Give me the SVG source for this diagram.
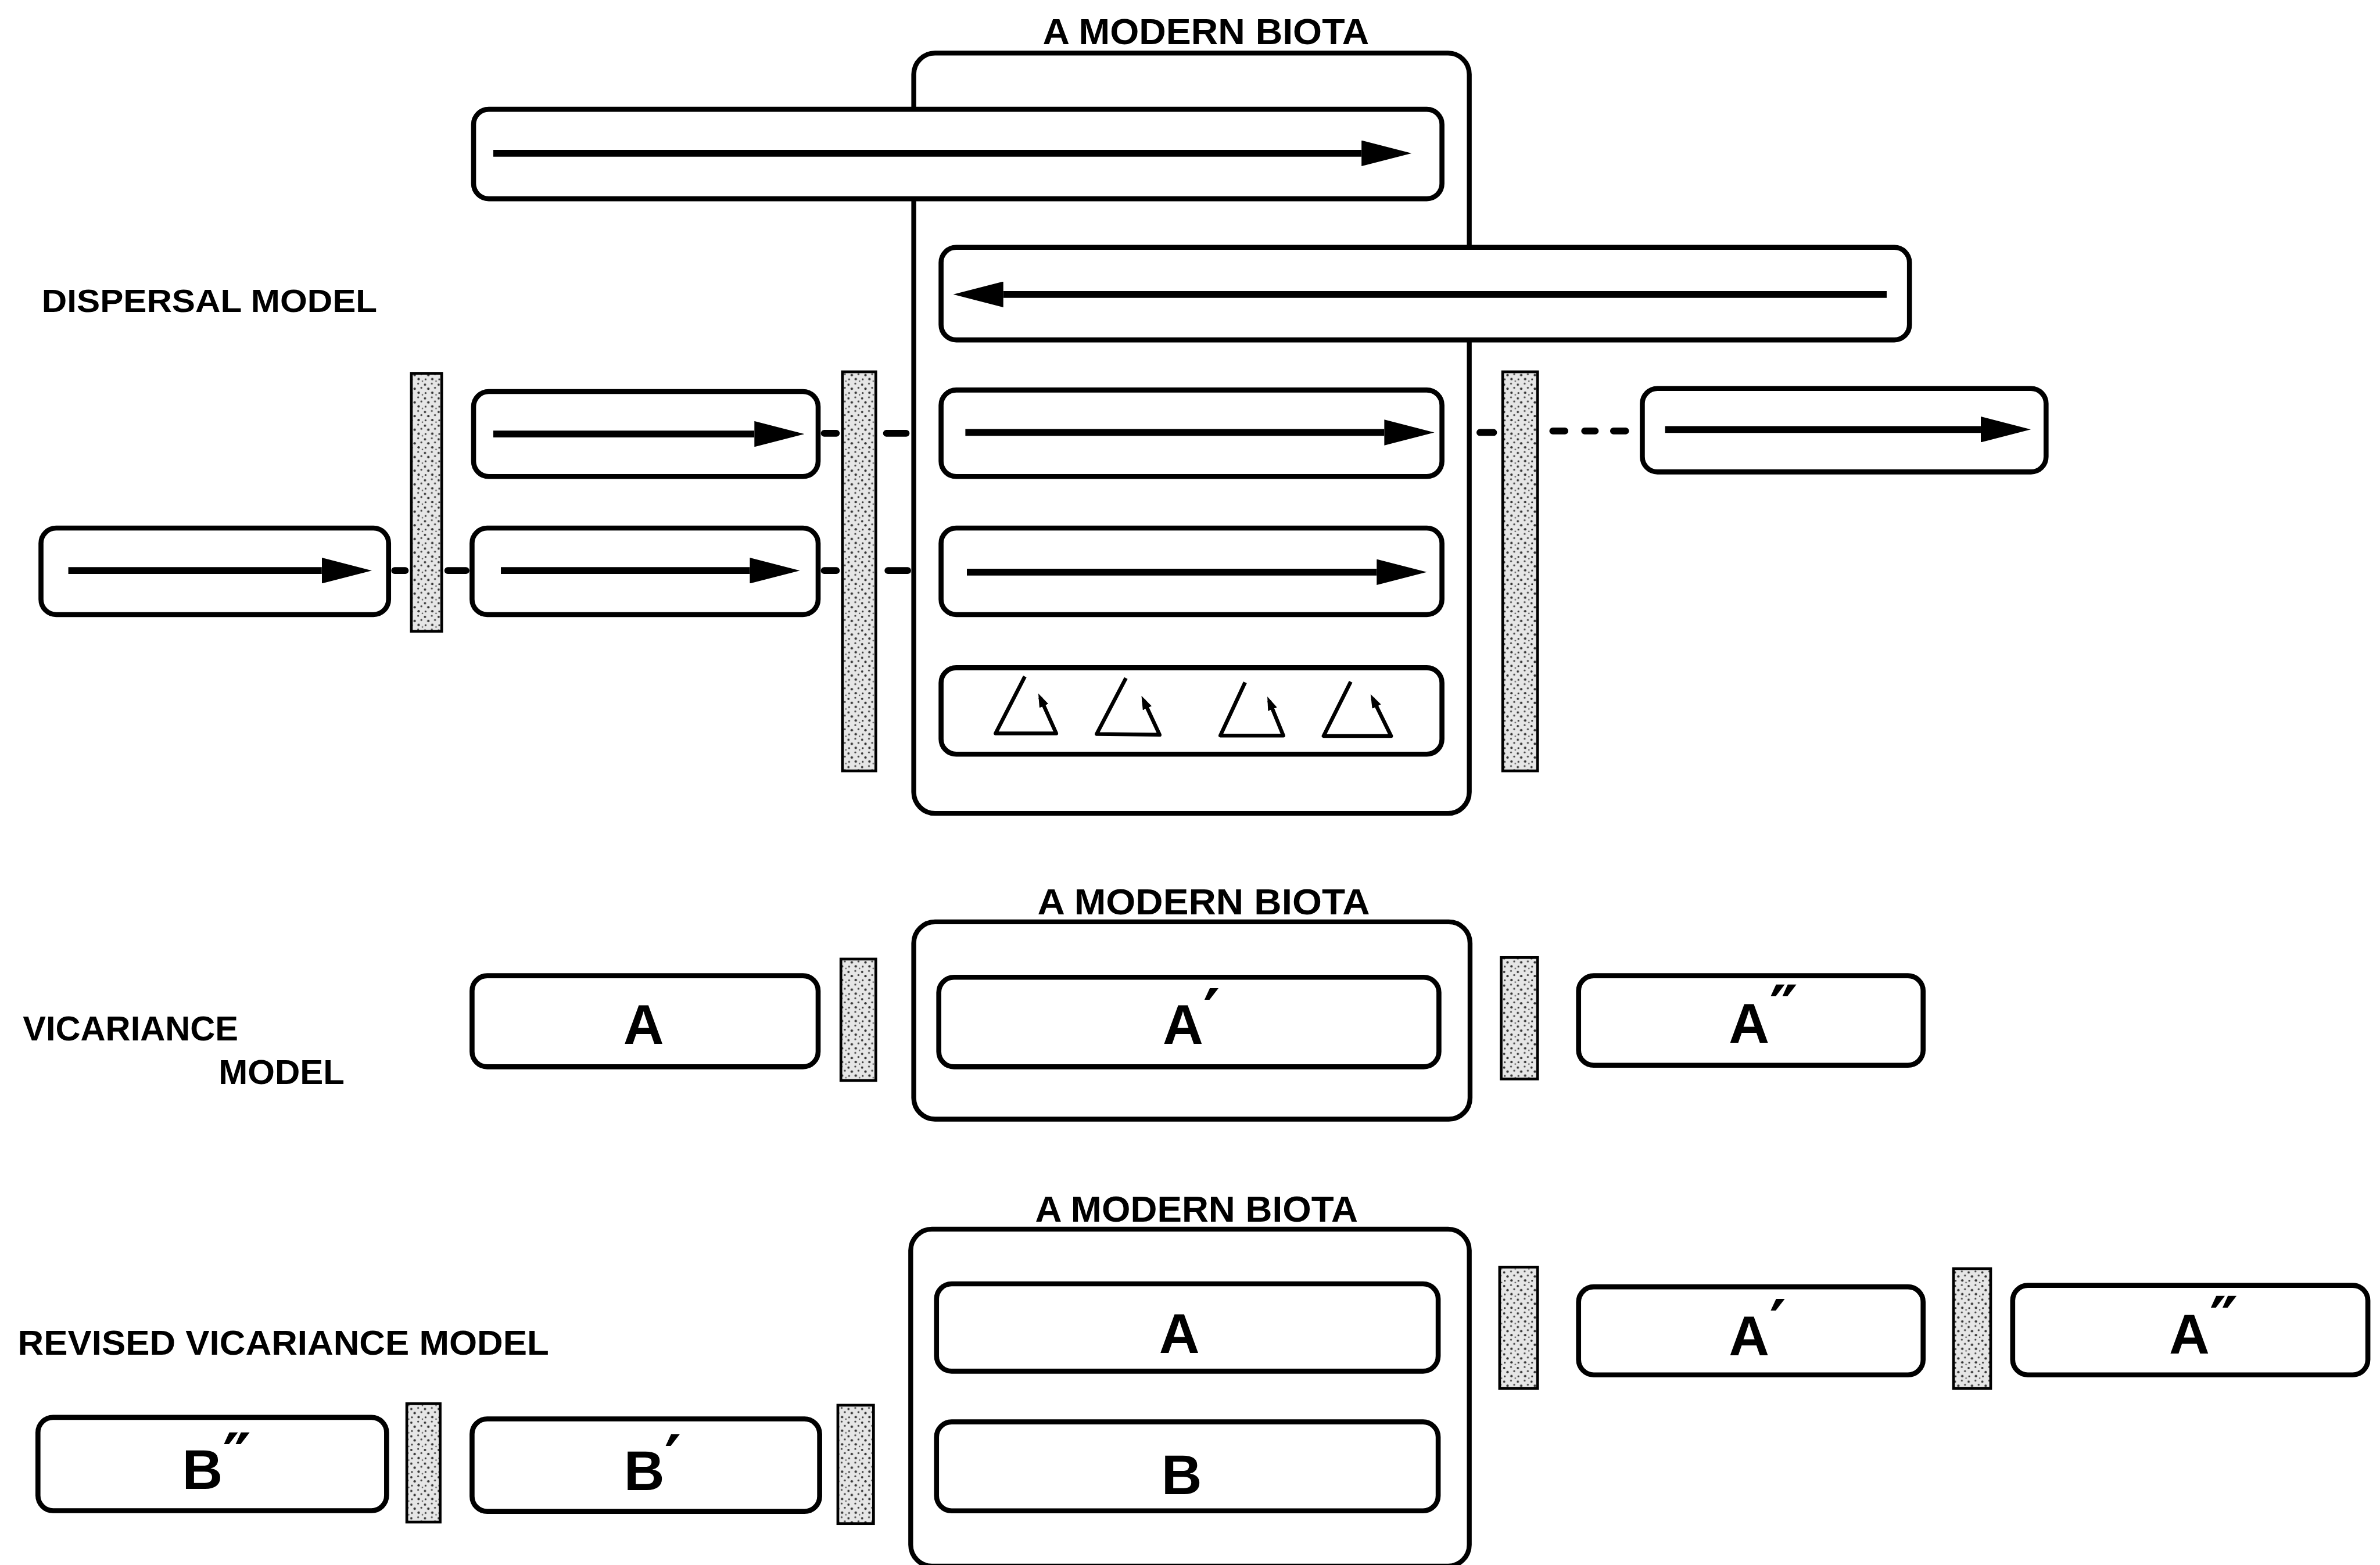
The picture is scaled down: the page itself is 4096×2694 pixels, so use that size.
<svg xmlns="http://www.w3.org/2000/svg" width="4096" height="2694" viewBox="0 0 4096 2694">
<defs>
<pattern id="stip" patternUnits="userSpaceOnUse" width="9" height="9">
<rect width="9" height="9" fill="#e6e6e6"/>
<circle cx="1" cy="1.5" r="0.75" fill="#333"/>
<circle cx="5.5" cy="0.8" r="0.6" fill="#444"/>
<circle cx="3.2" cy="4.2" r="0.8" fill="#333"/>
<circle cx="7.6" cy="3.6" r="0.65" fill="#444"/>
<circle cx="1.4" cy="7" r="0.6" fill="#333"/>
<circle cx="5.8" cy="6.8" r="0.8" fill="#333"/>
<circle cx="8.3" cy="8.2" r="0.5" fill="#555"/>
</pattern>
<marker id="ah" viewBox="0 -8.5 33 17" refX="0" refY="0" markerWidth="33" markerHeight="17" markerUnits="userSpaceOnUse" orient="auto">
<path d="M0,-8.5 L33,0 L0,8.5 z" fill="#000"/>
</marker>
<marker id="sh" viewBox="0 -3.2 9 6.4" refX="6" refY="0" markerWidth="9" markerHeight="6.4" markerUnits="userSpaceOnUse" orient="auto">
<path d="M0,-3.2 L9,0 L0,3.2 z" fill="#000"/>
</marker>
</defs>
<style>
.box{fill:#fff;stroke:#000;stroke-width:3.3}
.cont{fill:#fff;stroke:#000;stroke-width:3.2}
.bar{fill:url(#stip);stroke:#000;stroke-width:1.8}
.arr{stroke:#000;stroke-width:4.5;fill:none;marker-end:url(#ah)}
.dash{stroke:#000;stroke-width:4.5;stroke-linecap:round;fill:none}
.lbl{font-family:"Liberation Sans",Arial,sans-serif;font-weight:bold;fill:#000}
.big{font-family:"Liberation Sans",Arial,sans-serif;font-weight:bold;font-size:37px;fill:#000}
.pr{font-family:"DejaVu Sans",sans-serif;font-weight:bold;font-size:42px}
.tri{fill:none;stroke:#000;stroke-width:2.5;stroke-linejoin:round;marker-end:url(#sh)}
</style>
<rect width="4096" height="2694" fill="#fff"/>
<g transform="scale(2.612245)">

<!-- ===== DISPERSAL MODEL ===== -->
<g id="label-dispersal">
<text class="lbl" x="27.5" y="205.6" font-size="21" textLength="221" lengthAdjust="spacingAndGlyphs">DISPERSAL  MODEL</text>
</g>
<g id="biota-1">
<text class="lbl" x="794.5" y="29" font-size="24" text-anchor="middle" textLength="215" lengthAdjust="spacingAndGlyphs">A MODERN BIOTA</text>
<rect class="cont" x="602" y="35" width="366" height="501" rx="14"/>
</g>
<g id="d-top1">
<rect class="box" x="312" y="72" width="638" height="59" rx="10"/>
<path class="arr" d="M325,101 H897"/>
</g>
<g id="d-top2">
<rect class="box" x="620" y="163" width="638" height="61" rx="10"/>
<path class="arr" d="M1243,194 H661"/>
</g>
<g id="d-r3a">
<rect class="box" x="312" y="258" width="227" height="56" rx="10"/>
<path class="arr" d="M325,286 H497"/>
</g>
<g id="d-r3b">
<rect class="box" x="620" y="257" width="330" height="57" rx="10"/>
<path class="arr" d="M636,285 H912"/>
</g>
<g id="d-r3c">
<rect class="box" x="1082" y="256" width="266" height="55" rx="10"/>
<path class="arr" d="M1097,283 H1305"/>
</g>
<g id="d-r4a">
<rect class="box" x="27" y="348" width="229" height="57" rx="10"/>
<path class="arr" d="M45,376 H212"/>
</g>
<g id="d-r4b">
<rect class="box" x="311" y="348" width="228" height="57" rx="10"/>
<path class="arr" d="M330,376 H494"/>
</g>
<g id="d-r4c">
<rect class="box" x="620" y="348" width="330" height="57" rx="10"/>
<path class="arr" d="M637,377 H907"/>
</g>
<g id="d-tri">
<rect class="box" x="620" y="440" width="330" height="57" rx="10"/>
<path class="tri" d="M675.2,445.8 L655.9,483.3 L695.9,483.3 L685.3,459.7"/>
<path class="tri" d="M741.8,446.8 L722.5,483.7 L764,484.2 L753.3,461.2"/>
<path class="tri" d="M820.3,449.7 L804,484.7 L845.5,484.7 L836.1,461.8"/>
<path class="tri" d="M889.9,449.2 L872,485 L916.5,485 L904.3,460.2"/>
</g>
<g id="d-bar1"><rect class="bar" x="271" y="246" width="20" height="170"/></g>
<g id="d-bar2"><rect class="bar" x="555" y="245" width="22" height="263"/></g>
<g id="d-bar3"><rect class="bar" x="990" y="245" width="23" height="263"/></g>

<!-- ===== VICARIANCE MODEL ===== -->
<g id="label-vicariance">
<text class="lbl" x="15" y="685.5" font-size="23" textLength="142" lengthAdjust="spacingAndGlyphs">VICARIANCE</text>
<text class="lbl" x="144" y="714.5" font-size="23" textLength="83" lengthAdjust="spacingAndGlyphs">MODEL</text>
</g>
<g id="v-A">
<rect class="box" x="311" y="643" width="228" height="60" rx="10"/>
<text class="big" x="424" y="688" text-anchor="middle">A</text>
</g>
<g id="v-bar1"><rect class="bar" x="554" y="632" width="23" height="80"/></g>
<g id="biota-2">
<text class="lbl" x="793" y="602.5" font-size="24" text-anchor="middle" textLength="219" lengthAdjust="spacingAndGlyphs">A MODERN  BIOTA</text>
<rect class="cont" x="602" y="607.5" width="366.5" height="130" rx="14"/>
<rect class="box" x="618.5" y="644" width="329.5" height="59" rx="10"/>
<text class="big" x="766" y="688">A<tspan class="pr" y="682">′</tspan></text>
</g>
<g id="v-bar2"><rect class="bar" x="989" y="631" width="24" height="80"/></g>
<g id="v-A2">
<rect class="box" x="1040" y="643" width="227" height="59" rx="10"/>
<text class="big" x="1139" y="687">A<tspan class="pr" y="680">″</tspan></text>
</g>

<!-- ===== REVISED VICARIANCE MODEL ===== -->
<g id="label-revised">
<text class="lbl" x="11.7" y="892.6" font-size="23" textLength="350" lengthAdjust="spacingAndGlyphs">REVISED VICARIANCE  MODEL</text>
</g>
<g id="r-B2">
<rect class="box" x="25" y="934" width="229.7" height="61.5" rx="10"/>
<text class="big" x="120" y="981">B<tspan class="pr" y="975">″</tspan></text>
</g>
<g id="r-bar1"><rect class="bar" x="268" y="925" width="22" height="78"/></g>
<g id="r-B1">
<rect class="box" x="311" y="935" width="229" height="61" rx="10"/>
<text class="big" x="411" y="982">B<tspan class="pr" y="976">′</tspan></text>
</g>
<g id="r-bar2"><rect class="bar" x="552" y="926" width="23.5" height="78"/></g>
<g id="biota-3">
<text class="lbl" x="788.3" y="805" font-size="24" text-anchor="middle" textLength="212.6" lengthAdjust="spacingAndGlyphs">A MODERN BIOTA</text>
<rect class="cont" x="600" y="810" width="368" height="222" rx="14"/>
<rect class="box" x="617" y="846" width="330.5" height="57.6" rx="10"/>
<text class="big" x="777" y="891.6" text-anchor="middle">A</text>
<rect class="box" x="617" y="937" width="330.5" height="58.6" rx="10"/>
<text class="big" x="778.5" y="984.5" text-anchor="middle">B</text>
</g>
<g id="r-bar3"><rect class="bar" x="988" y="835" width="25" height="80"/></g>
<g id="r-A1">
<rect class="box" x="1040" y="848" width="227" height="58" rx="10"/>
<text class="big" x="1139" y="893">A<tspan class="pr" y="887">′</tspan></text>
</g>
<g id="r-bar4"><rect class="bar" x="1287" y="836" width="24.5" height="79"/></g>
<g id="r-A2">
<rect class="box" x="1326" y="847" width="234" height="59" rx="10"/>
<text class="big" x="1429" y="892">A<tspan class="pr" y="885">″</tspan></text>
</g>

<!-- ===== connectors ===== -->
<g id="connectors">
<path class="dash" d="M543,285.5 H551 M584,285.5 H597"/>
<path class="dash" d="M975,285 H984 M1023,284 H1031 M1044,284 H1051 M1063,284 H1071"/>
<path class="dash" d="M260,376 H267 M295,376 H307 M543,376 H551 M585,376 H598"/>
</g>
</g>
</svg>
